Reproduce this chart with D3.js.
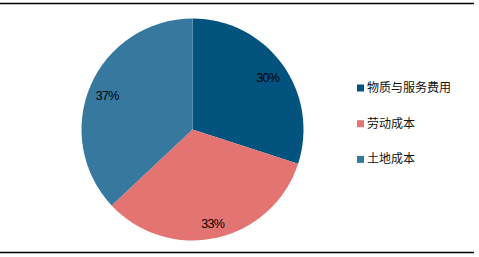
<!DOCTYPE html>
<html>
<head>
<meta charset="utf-8">
<script src="https://cdn.jsdelivr.net/npm/d3@7"></script>
<style>
  body { margin: 0; background: #fff; }
  svg { display: block; font-family: "Liberation Sans", Arial, "Noto Sans CJK SC", sans-serif; }
</style>
</head>
<body>
<svg id="chart" width="479" height="257"></svg>
<script>
const categories = ["物质与服务费用", "劳动成本", "土地成本"];
const values = [30, 33, 37];
const colors = ["#03537f", "#e37472", "#37789f"];

const svg = d3.select("#chart");

// top and bottom rules
svg.append("line").attr("x1", 0).attr("x2", 474).attr("y1", 3.5).attr("y2", 3.5)
    .attr("stroke", "#000").attr("stroke-width", 1.5);
svg.append("line").attr("x1", 0).attr("x2", 474).attr("y1", 252.5).attr("y2", 252.5)
    .attr("stroke", "#000").attr("stroke-width", 1.5);

const cx = 192.5, cy = 129.5, r = 111;

const pie = d3.pie().sort(null).value(d => d);
const arcs = pie(values);
const arc = d3.arc().innerRadius(0).outerRadius(r);
const labelArc = d3.arc().innerRadius(93).outerRadius(93);

const g = svg.append("g").attr("transform", `translate(${cx},${cy})`);

g.selectAll("path")
    .data(arcs)
    .join("path")
    .attr("d", arc)
    .attr("fill", (d, i) => colors[i]);

g.selectAll("text")
    .data(arcs)
    .join("text")
    .attr("transform", d => {
        const [x, y] = labelArc.centroid(d);
        return `translate(${x},${y + 2.5})`;
    })
    .attr("text-anchor", "middle")
    .attr("dy", "0.38em")
    .attr("font-size", 12.5)
    .attr("letter-spacing", -0.7)
    .attr("fill", "#000")
    .text(d => d.data + "%");

const legend = svg.append("g").attr("transform", "translate(357,88)");
const item = legend.selectAll("g")
    .data(categories)
    .join("g")
    .attr("transform", (d, i) => `translate(0,${i * 35.7})`);

item.append("rect")
    .attr("x", 0).attr("y", -3.5)
    .attr("width", 7).attr("height", 7)
    .attr("fill", (d, i) => colors[i]);

item.append("text")
    .attr("x", 10)
    .attr("dominant-baseline", "central")
    .attr("font-size", 12)
    .attr("fill", "#111")
    .text(d => d);
</script>
</body>
</html>
